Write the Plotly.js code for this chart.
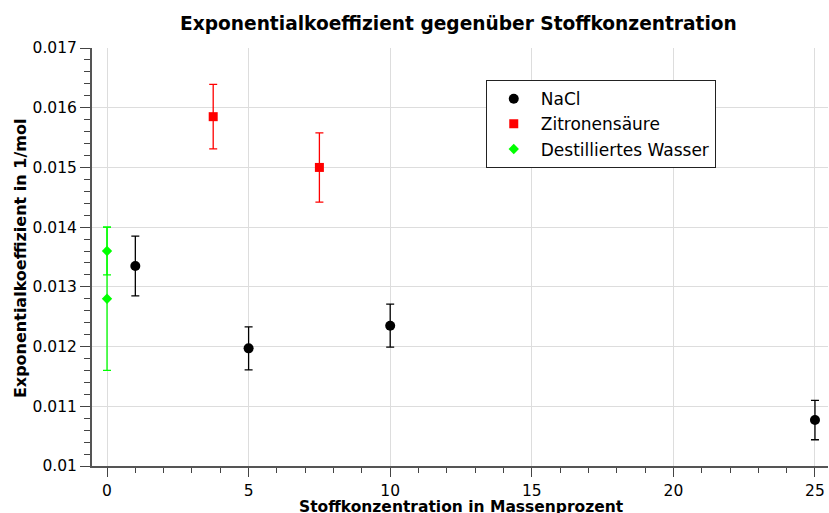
<!DOCTYPE html>
<html><head><meta charset="utf-8">
<script src="https://cdn.plot.ly/plotly-3.0.1.min.js"></script>
<style>body{margin:0;padding:0;background:#fff}#chart{width:829px;height:513px}</style>
</head><body><div id="chart"></div>
<script>
const naclX = [1, 5, 10, 25];
const naclY = [0.01335, 0.01197, 0.01235, 0.01077];
const naclErr = [0.0005, 0.00036, 0.00036, 0.00033];
const zitX = [3.75, 7.5];
const zitY = [0.01585, 0.0150];
const zitErr = [0.00054, 0.00058];
const wasX = [0, 0];
const wasY = [0.0136, 0.0128];
const wasErr = [0.0004, 0.0012];

const FONT = 'DejaVu Sans';
const traces = [
  {x: naclX, y: naclY, name: 'NaCl', type: 'scatter', mode: 'markers',
   marker: {color: 'black', size: 10, symbol: 'circle'},
   error_y: {type: 'data', array: naclErr, visible: true, color: 'black', thickness: 1.3, width: 4}},
  {x: zitX, y: zitY, name: 'Zitronensäure', type: 'scatter', mode: 'markers',
   marker: {color: '#ff0000', size: 9, symbol: 'square'},
   error_y: {type: 'data', array: zitErr, visible: true, color: '#ff0000', thickness: 1.3, width: 4}},
  {x: wasX, y: wasY, name: 'Destilliertes Wasser', type: 'scatter', mode: 'markers',
   marker: {color: '#00ff00', size: 8, symbol: 'diamond'},
   error_y: {type: 'data', array: wasErr, visible: true, color: '#00ff00', thickness: 1.3, width: 4}}
];
const layout = {
  width: 829, height: 513,
  margin: {l: 92, r: 1, t: 48, b: 47},
  paper_bgcolor: 'white', plot_bgcolor: 'white',
  font: {family: FONT, color: 'black', size: 15.5},
  title: {text: '<b>Exponentialkoeffizient gegenüber Stoffkonzentration</b>', font: {family: FONT, size: 18.6, color: 'black'}, x: 0.553, xanchor: 'center', y: 0.955, yanchor: 'middle'},
  xaxis: {range: [-0.53, 25.46], tickvals: [0,5,10,15,20,25], ticktext: ['0','5','10','15','20','25'],
    ticks: 'outside', ticklen: 9, tickwidth: 1, tickcolor: '#444',
    minor: {dtick: 1, tick0: 0, ticks: 'outside', ticklen: 5, tickcolor: '#444', showgrid: false},
    showline: true, linecolor: '#555', linewidth: 2, showgrid: true, gridcolor: '#dddddd', zeroline: false,
    tickfont: {size: 15.5, family: FONT}},
  yaxis: {range: [0.01, 0.017], tickvals: [0.01,0.011,0.012,0.013,0.014,0.015,0.016,0.017],
    ticktext: ['0.01','0.011','0.012','0.013','0.014','0.015','0.016','0.017'],
    ticks: 'outside', ticklen: 10, tickwidth: 1, tickcolor: '#444',
    minor: {dtick: 0.0002, tick0: 0.01, ticks: 'outside', ticklen: 6, tickcolor: '#444', showgrid: false},
    showline: true, linecolor: '#555', linewidth: 2, showgrid: true, gridcolor: '#dddddd', zeroline: false,
    tickfont: {size: 15.5, family: FONT}},
  annotations: [
    {text: '<b>Stoffkonzentration in Massenprozent</b>', xref: 'paper', yref: 'paper', x: 0.5027, y: 0,
     xanchor: 'center', yanchor: 'middle', yshift: -41, showarrow: false, font: {size: 15.5, family: FONT}},
    {text: '<b>Exponentialkoeffizient in 1/mol</b>', xref: 'paper', yref: 'paper', x: 0, y: 0.495,
     xanchor: 'center', yanchor: 'middle', xshift: -72, textangle: -90, showarrow: false, font: {size: 16, family: FONT}}
  ],
  legend: {x: 0.535, y: 0.923, xanchor: 'left', yanchor: 'top', bordercolor: '#222', borderwidth: 1,
    bgcolor: 'white', font: {size: 17, family: FONT}, tracegroupgap: 0, itemwidth: 44},
  showlegend: true
};
Plotly.newPlot('chart', traces, layout, {displayModeBar: false, staticPlot: true});
</script></body></html>
